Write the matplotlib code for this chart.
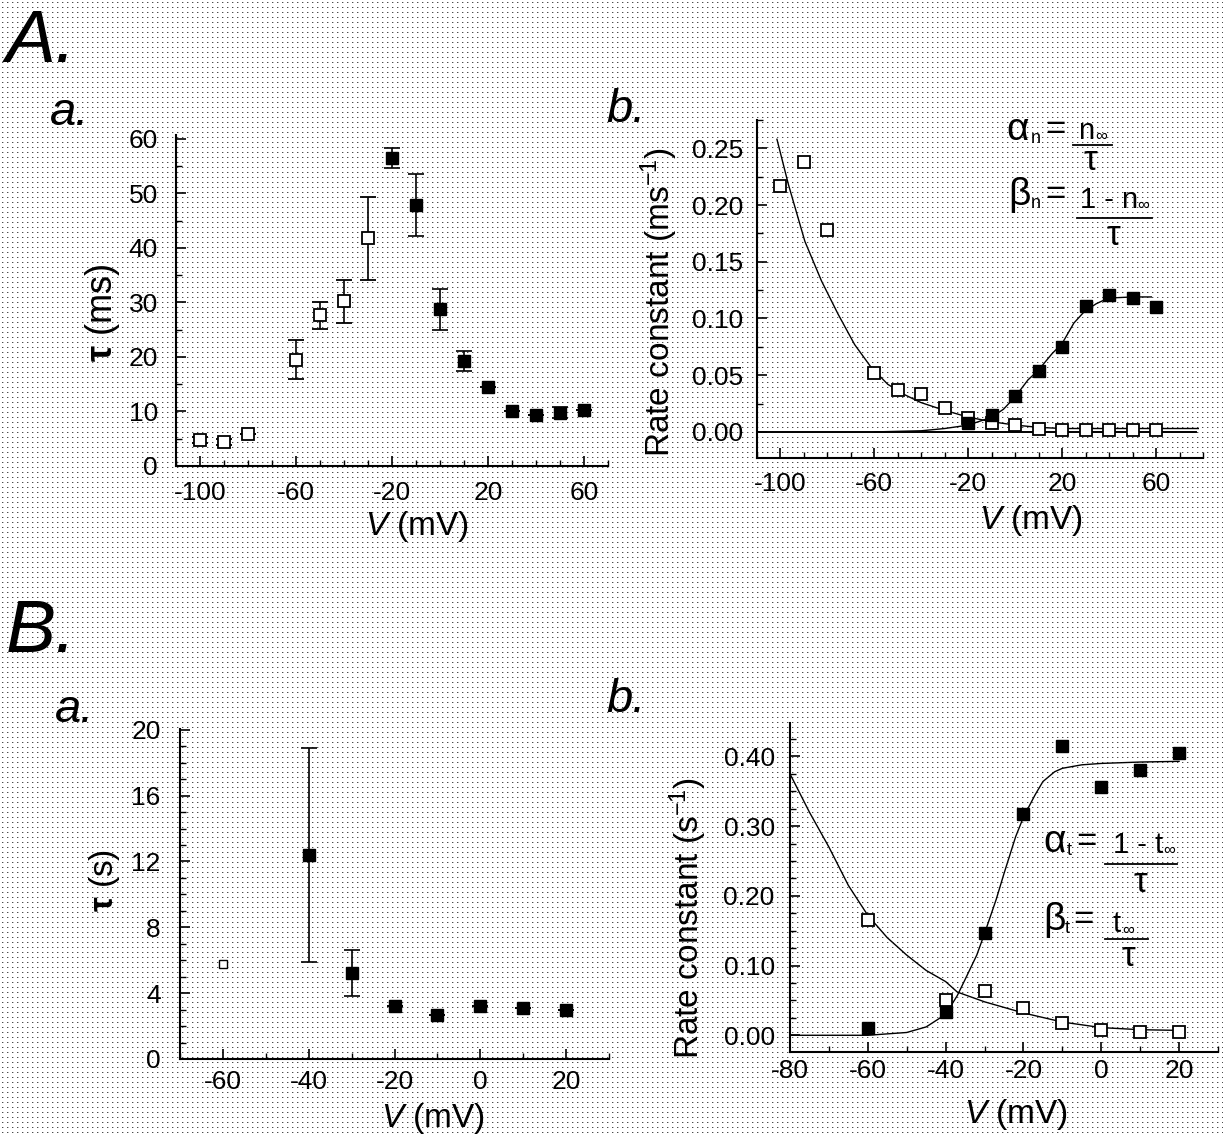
import numpy as np
import matplotlib
matplotlib.use("Agg")
import matplotlib.pyplot as plt
from matplotlib.ticker import MultipleLocator, FixedLocator, FormatStrFormatter
from matplotlib.lines import Line2D

plt.rcParams['font.family'] = ['Liberation Sans', 'DejaVu Sans']
plt.rcParams['mathtext.fontset'] = 'custom'
plt.rcParams['mathtext.rm'] = 'Liberation Sans'
plt.rcParams['mathtext.it'] = 'Liberation Sans:italic'
plt.rcParams['mathtext.bf'] = 'Liberation Sans:bold'
plt.rcParams['axes.unicode_minus'] = False

W, H = 1223, 1135

# ---- A.a : tau (ms) vs V ----
aa_v_open = [-100, -90, -80, -60, -50, -40, -30]
aa_tau_open = [4.8, 4.4, 5.8, 19.5, 27.6, 30.2, 41.8]
aa_err_open = [0.6, 0.6, 0.0, 3.6, 2.4, 3.9, 7.6]
aa_v_fill = [-20, -10, 0, 10, 20, 30, 40, 50, 60]
aa_tau_fill = [56.5, 47.8, 28.7, 19.2, 14.5, 10.1, 9.4, 9.8, 10.3]
aa_err_fill = [1.9, 5.7, 3.7, 1.8, 0.0, 0.0, 0.0, 1.0, 0.0]

# ---- A.b : rate constants (ms-1) ----
ab_v_open = [-100, -90, -80, -60, -50, -40, -30, -20, -10, 0, 10, 20, 30, 40, 50, 60]
ab_beta = [0.217, 0.238, 0.178, 0.052, 0.037, 0.033, 0.021, 0.012, 0.008,
           0.006, 0.003, 0.002, 0.002, 0.002, 0.002, 0.002]
ab_v_fill = [-20, -10, 0, 10, 20, 30, 40, 50, 60]
ab_alpha = [0.008, 0.015, 0.032, 0.054, 0.075, 0.111, 0.121, 0.118, 0.110]
# fitted curves
ab_beta_fit_v = [-101.5, -96.6, -89.6, -82.5, -75.5, -68.4, -61.4, -54.3, -47.3,
                 -40.3, -31.6, -20, -10, 0, 10, 20, 40, 60, 78]
ab_beta_fit = [0.258, 0.218, 0.168, 0.133, 0.104, 0.077, 0.057, 0.042, 0.033,
               0.026, 0.020, 0.013, 0.009, 0.006, 0.004, 0.003, 0.003, 0.003, 0.003]
ab_alpha_fit_v = [-60, -40, -30, -20, -10, -5, 0, 5.5, 9.7, 15.7, 20, 25, 29.4,
                  34.5, 39.7, 50, 58]
ab_alpha_fit = [0.0, 0.001, 0.003, 0.006, 0.013, 0.020, 0.031, 0.046, 0.054,
                0.069, 0.078, 0.096, 0.106, 0.113, 0.118, 0.119, 0.119]

# ---- B.a : tau (s) vs V ----
ba_v_open = [-60]
ba_tau_open = [5.8]
ba_v_fill = [-40, -30, -20, -10, 0, 10, 20]
ba_tau_fill = [12.4, 5.2, 3.2, 2.7, 3.2, 3.1, 3.0]
ba_err_fill = [6.5, 1.4, 0.0, 0.0, 0.0, 0.0, 0.0]

# ---- B.b : rate constants (s-1) ----
bb_v = [-60, -40, -30, -20, -10, 0, 10, 20]
bb_fill = [0.010, 0.034, 0.147, 0.318, 0.415, 0.356, 0.381, 0.405]
bb_open = [0.166, 0.051, 0.064, 0.039, 0.017, 0.007, 0.005, 0.005]
bb_decay_fit_v = [-80, -75, -70, -65, -60, -55, -50, -45, -40, -37, -30, -20, -10, 0, 10, 20]
bb_decay_fit = [0.375, 0.320, 0.270, 0.215, 0.172, 0.140, 0.115, 0.093, 0.077,
                0.062, 0.048, 0.032, 0.019, 0.011, 0.008, 0.007]
bb_sig_fit_v = [-80, -60, -55, -50, -45, -40, -37, -35, -32, -30, -27, -25, -22,
                -20, -17, -15, -12, -10, -5, 0, 10, 20]
bb_sig_fit = [0.0, 0.0, 0.002, 0.004, 0.012, 0.030, 0.057, 0.080, 0.115, 0.146,
              0.195, 0.232, 0.285, 0.313, 0.345, 0.364, 0.378, 0.383, 0.388,
              0.390, 0.392, 0.393]


def px_axes(fig, left, top, right, bottom):
    return fig.add_axes([left / W, 1 - bottom / H, (right - left) / W, (bottom - top) / H])


def fx(x):
    return x / W


def fy(y):
    return 1 - y / H


def style(ax, tick_size=19, xpad=10, ypad=12):
    for s in ['top', 'right']:
        ax.spines[s].set_visible(False)
    for s in ['left', 'bottom']:
        ax.spines[s].set_linewidth(1.5)
    ax.set_facecolor('none')
    ax.tick_params(which='major', direction='in', length=7, width=1.2, labelsize=tick_size)
    ax.tick_params(which='minor', direction='in', length=4, width=1.0)
    ax.tick_params(axis='x', pad=xpad)
    ax.tick_params(axis='y', pad=ypad)


fig = plt.figure(figsize=(W / 100, H / 100), dpi=100)
fig.patch.set_facecolor('white')

# halftone dot screen of the printed page
bg = np.ones((H, W, 3))
bg[2::5, 2::5, :] = 0.3
bg[2::5, 3::5, :] = 0.75
fig.figimage(bg, xo=0, yo=0, origin='upper', zorder=-1)

open_kw = dict(marker='s', ms=9, mfc='white', mec='black', mew=1.3, ls='none',
               ecolor='black', elinewidth=1.2, capsize=6, capthick=1.2, zorder=3)
fill_kw = dict(marker='s', ms=9, mfc='black', mec='black', ls='none',
               ecolor='black', elinewidth=1.2, capsize=6, capthick=1.2, zorder=3)

# ---------- A.a ----------
ax1 = px_axes(fig, 176, 135, 608, 466)
ax1.errorbar(aa_v_open, aa_tau_open, yerr=aa_err_open, **open_kw)
ax1.errorbar(aa_v_fill, aa_tau_fill, yerr=aa_err_fill, **fill_kw)
ax1.set_xlim(-110, 70)
ax1.set_ylim(0, 60.7)
ax1.xaxis.set_major_locator(FixedLocator([-100, -60, -20, 20, 60]))
ax1.xaxis.set_minor_locator(MultipleLocator(10))
ax1.yaxis.set_major_locator(MultipleLocator(10))
ax1.yaxis.set_minor_locator(MultipleLocator(5))
style(ax1, xpad=11, ypad=13)

# ---------- A.b ----------
ax2 = px_axes(fig, 757, 120, 1203, 458)
ax2.axhline(0, color='black', lw=1.4, xmax=0.985, zorder=2)
ax2.plot(ab_beta_fit_v, ab_beta_fit, color='black', lw=1.0, zorder=2)
ax2.plot(ab_alpha_fit_v, ab_alpha_fit, color='black', lw=1.0, zorder=2)
ax2.plot(ab_v_open, ab_beta, marker='s', ms=9, mfc='white', mec='black', mew=1.3,
         ls='none', zorder=3)
ax2.plot(ab_v_fill, ab_alpha, marker='s', ms=9, mfc='black', mec='black', ls='none', zorder=4)
ax2.set_xlim(-110, 80)
ax2.set_ylim(-0.023, 0.275)
ax2.xaxis.set_major_locator(FixedLocator([-100, -60, -20, 20, 60]))
ax2.xaxis.set_minor_locator(MultipleLocator(10))
ax2.yaxis.set_major_locator(MultipleLocator(0.05))
ax2.yaxis.set_minor_locator(MultipleLocator(0.025))
ax2.yaxis.set_major_formatter(FormatStrFormatter('%.2f'))
style(ax2, xpad=10, ypad=10)

# ---------- B.a ----------
ax3 = px_axes(fig, 180, 729, 609, 1059)
ax3.plot(ba_v_open, ba_tau_open, marker='s', ms=6, mfc='white', mec='black', mew=1.0, ls='none')
ax3.errorbar(ba_v_fill, ba_tau_fill, yerr=ba_err_fill, **fill_kw)
ax3.set_xlim(-70, 30)
ax3.set_ylim(0, 20.05)
ax3.xaxis.set_major_locator(FixedLocator([-60, -40, -20, 0, 20]))
ax3.xaxis.set_minor_locator(MultipleLocator(10))
ax3.yaxis.set_major_locator(MultipleLocator(4))
ax3.yaxis.set_minor_locator(MultipleLocator(1))
style(ax3, xpad=8, ypad=14)

# ---------- B.b ----------
ax4 = px_axes(fig, 790, 723, 1218, 1052)
ax4.plot(bb_decay_fit_v, bb_decay_fit, color='black', lw=1.0, zorder=2)
ax4.plot(bb_sig_fit_v, bb_sig_fit, color='black', lw=1.0, zorder=2)
ax4.plot(bb_v, bb_open, marker='s', ms=9, mfc='white', mec='black', mew=1.3, ls='none', zorder=3)
ax4.plot(bb_v, bb_fill, marker='s', ms=9, mfc='black', mec='black', ls='none', zorder=4)
ax4.set_xlim(-80, 30)
ax4.set_ylim(-0.024, 0.448)
ax4.xaxis.set_major_locator(FixedLocator([-80, -60, -40, -20, 0, 20]))
ax4.xaxis.set_minor_locator(MultipleLocator(10))
ax4.yaxis.set_major_locator(MultipleLocator(0.1))
ax4.yaxis.set_minor_locator(MultipleLocator(0.025))
ax4.yaxis.set_major_formatter(FormatStrFormatter('%.2f'))
style(ax4, xpad=5, ypad=11)

# ---------- axis labels ----------
lab = 24
fig.text(fx(103), fy(313), r'$\mathbf{τ}$ (ms)', rotation=90, ha='center', va='center', fontsize=26)
fig.text(fx(417), fy(526), r'$\mathit{V}$ (mV)', ha='center', va='center', fontsize=lab)
fig.text(fx(659), fy(302), r'Rate constant (ms$^{-1}$)', rotation=90, ha='center', va='center', fontsize=lab)
fig.text(fx(1031), fy(520), r'$\mathit{V}$ (mV)', ha='center', va='center', fontsize=lab)
fig.text(fx(105), fy(880), r'$\mathbf{τ}$ (s)', rotation=90, ha='center', va='center', fontsize=24)
fig.text(fx(433), fy(1118), r'$\mathit{V}$ (mV)', ha='center', va='center', fontsize=lab)
fig.text(fx(688), fy(918), r'Rate constant (s$^{-1}$)', rotation=90, ha='center', va='center', fontsize=lab)
fig.text(fx(1016), fy(1115), r'$\mathit{V}$ (mV)', ha='center', va='center', fontsize=lab)

# ---------- panel letters ----------
fig.text(fx(6), fy(62), 'A.', fontsize=54, style='italic', va='baseline')
fig.text(fx(6), fy(652), 'B.', fontsize=54, style='italic', va='baseline')
fig.text(fx(50), fy(125), 'a.', fontsize=34, style='italic', va='baseline')
fig.text(fx(606), fy(122), 'b.', fontsize=34, style='italic', va='baseline')
fig.text(fx(55), fy(722), 'a.', fontsize=34, style='italic', va='baseline')
fig.text(fx(606), fy(712), 'b.', fontsize=34, style='italic', va='baseline')


# ---------- equations ----------
def frac_line(x0, x1, y):
    fig.add_artist(Line2D([fx(x0), fx(x1)], [fy(y), fy(y)], color='black', lw=1.3))


def eq(sym, sub, x, y, xsub, xeq, num, xnum, ynum, xinf, yinf, x0, x1, yline, xtau, ytau):
    fig.text(fx(x), fy(y), r'$\mathrm{%s}$' % sym, fontsize=28, va='baseline')
    fig.text(fx(xsub), fy(y + 3), r'$\mathrm{%s}$' % sub, fontsize=13, va='baseline')
    fig.text(fx(xeq), fy(y - 1), '=', fontsize=25, va='baseline')
    fig.text(fx(xnum), fy(ynum), num, fontsize=21, va='baseline')
    fig.text(fx(xinf), fy(yinf), r'$\mathrm{∞}$', fontsize=12, va='baseline')
    frac_line(x0, x1, yline)
    fig.text(fx(xtau), fy(ytau), r'$\mathrm{τ}$', fontsize=25, ha='center', va='center')


eq('α', 'n', 1006, 140, 1030, 1045, r'$\mathrm{n}$', 1078, 139, 1095, 140, 1073, 1112, 145, 1091, 161)
eq('β', 'n', 1008, 205, 1030, 1045, '1 - n', 1080, 208, 1137, 209, 1077, 1152, 218, 1114, 235)
eq('α', 't', 1043, 852, 1066, 1076, '1 - t', 1113, 853, 1163, 854, 1105, 1177, 864, 1141, 882)
eq('β', 't', 1043, 930, 1064, 1073, r'$\mathrm{t}$', 1112, 932, 1122, 934, 1105, 1148, 939, 1129, 956)

fig.savefig('out.png', dpi=100)
